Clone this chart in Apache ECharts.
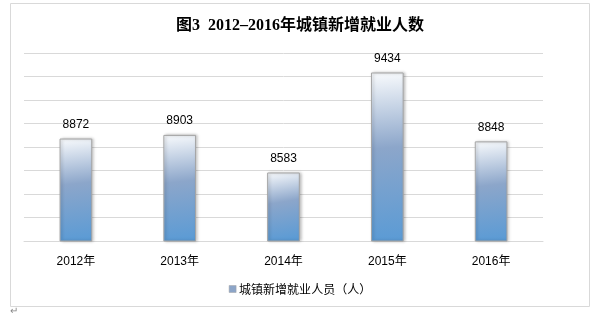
<!DOCTYPE html>
<html><head><meta charset="utf-8">
<script src="https://cdn.jsdelivr.net/npm/echarts@6/dist/echarts.min.js"></script>
<style>html,body{margin:0;padding:0;background:#fff}#c{width:600px;height:318px}</style>
</head><body><div id="c"></div>
<script>
const categories = ['2012年','2013年','2014年','2015年','2016年'];
const values = [8872, 8903, 8583, 9434, 8848];
const seriesName = '城镇新增就业人员（人）';
const titleText = '图3  2012–2016年城镇新增就业人数';

const chart = echarts.init(document.getElementById('c'));
const grad = new echarts.graphic.LinearGradient(0, 0, 0.35, 1, [
  {offset: 0, color: '#f9fbfd'},
  {offset: 0.45, color: '#8ca6ca'},
  {offset: 1, color: '#5b9bd5'}
]);
chart.setOption({
  animation: false,
  title: {
    text: titleText, left: 'center', top: 13,
    textStyle: {fontFamily: "'Liberation Serif','Noto Sans CJK SC'", fontWeight: 'bold', fontSize: 16, color: '#000'}
  },
  graphic: [
    {type: 'rect', shape: {x: 10.5, y: 3.5, width: 579, height: 303}, style: {fill: 'none', stroke: '#d9d9d9', lineWidth: 1}, z: -1},
    {type: 'text', left: 10, top: 306, style: {text: '↵', fill: '#888', fontSize: 10}}
  ],
  legend: {
    bottom: 18, left: 'center', itemWidth: 7, itemHeight: 7, itemGap: 4,
    icon: 'rect',
    textStyle: {fontFamily: "'Noto Sans CJK SC'", fontSize: 12, color: '#000', padding: [0,0,0,-2]},
    data: [{name: seriesName, itemStyle: {color: '#8ca5c8', borderColor: '#a0a0a0', borderWidth: 0.5}}]
  },
  grid: {left: 24, right: 57, top: 53, bottom: 77, containLabel: false},
  xAxis: {
    type: 'category', data: categories,
    axisLine: {lineStyle: {color: '#d9d9d9'}}, axisTick: {show: false},
    axisLabel: {margin: 15, fontFamily: "'Liberation Sans','Noto Sans CJK SC'", fontSize: 12, color: '#000'}
  },
  yAxis: {
    type: 'value', min: 8000, max: 9600, interval: 200,
    axisLabel: {show: false}, axisLine: {show: false}, axisTick: {show: false},
    splitLine: {lineStyle: {color: '#d9d9d9'}}
  },
  series: [{
    name: seriesName, type: 'bar', data: values, barWidth: '31.5%',
    itemStyle: {color: grad, borderColor: '#a5a5a5', borderWidth: 1,
      shadowColor: 'rgba(0,0,0,0.25)', shadowBlur: 3, shadowOffsetX: 1.5, shadowOffsetY: 0},
    label: {show: true, position: 'top', distance: 8, fontFamily: "'Liberation Sans'", fontSize: 12, color: '#000'}
  }]
});
</script></body></html>
